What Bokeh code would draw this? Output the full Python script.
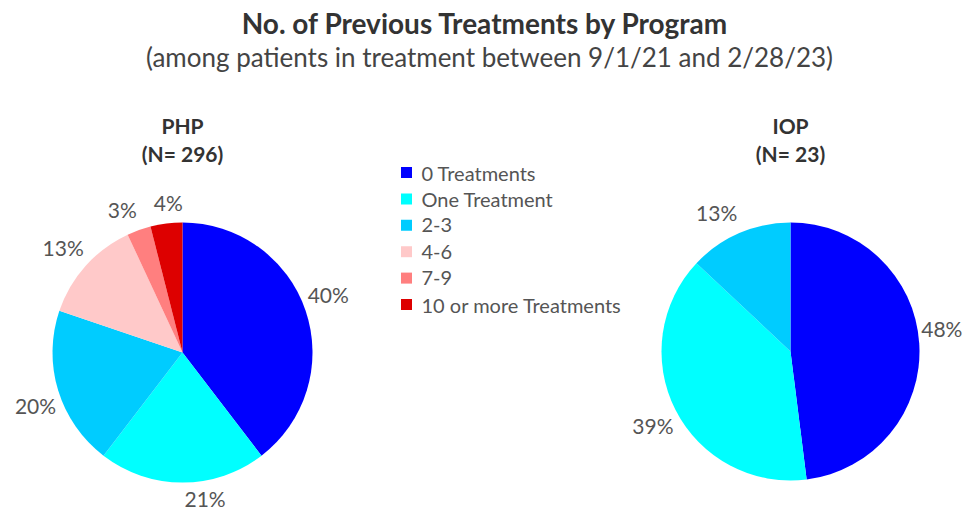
import math
from bokeh.plotting import figure
from bokeh.models import ColumnDataSource, Range1d
from bokeh.core.properties import value
from bokeh.embed import file_html
from bokeh.resources import INLINE

# ---- data ----
categories = ["0 Treatments", "One Treatment", "2-3", "4-6", "7-9", "10 or more Treatments"]
colors = ["#0000FF", "#00FFFF", "#00CCFF", "#FFC9C9", "#FF7F7F", "#DD0000"]
php_values = [40, 21, 20, 13, 3, 4]
iop_values = [48, 39, 13]
php_title = ["PHP", "(N= 296)"]
iop_title = ["IOP", "(N= 23)"]
main_title = "No. of Previous Treatments by Program"
sub_title = "(among patients in treatment between 9/1/21 and 2/28/23)"

W, H = 969, 510
FONT = "Lato"
GRAY = "#555555"

p = figure(width=W, height=H, output_backend="svg", toolbar_location=None,
           x_range=Range1d(0, W), y_range=Range1d(0, H), min_border=0)
p.axis.visible = False
p.grid.visible = False
p.outline_line_color = None
p.background_fill_color = "white"


def Y(py):  # page pixel y -> data y
    return H - py


def X(px):
    return px


def pie(vals, cx, cy, r):
    total = float(sum(vals))
    starts, ends = [], []
    lx, ly, la, lb, lt = [], [], [], [], []
    cum = 0.0
    for v in vals:
        a0 = math.pi / 2 - 2 * math.pi * (cum + v) / total
        a1 = math.pi / 2 - 2 * math.pi * cum / total
        starts.append(a0)
        ends.append(a1)
        mid = 2 * math.pi * (cum + v / 2) / total  # clockwise from top
        s, c = math.sin(mid), math.cos(mid)
        ex, ey = cx + s * r, cy + c * r  # point on the rim (data coords, y up)
        if c > 0:   # upper half: text sits above the rim point
            ly.append(ey + 14 + 7 * c)
            lb.append("alphabetic")
        else:       # lower half: text hangs below the rim point
            ly.append(ey - 3)
            lb.append("top")
        if abs(s) < 0.15 and c > 0:
            la.append("center")
            lx.append(ex + 2)
        elif s >= 0:
            la.append("left")
            lx.append(ex + 2)
        else:
            la.append("right")
            lx.append(ex - 2)
        lt.append(f"{v}%")
        cum += v
    src = ColumnDataSource(dict(start=starts, end=ends, color=colors[:len(vals)]))
    p.wedge(x=cx, y=cy, radius=r, start_angle="start", end_angle="end",
            fill_color="color", line_color=None, source=src)
    lsrc = ColumnDataSource(dict(x=lx, y=ly, t=lt, a=la, b=lb))
    p.text(x="x", y="y", text="t", text_align="a", text_baseline="b",
           text_font=value(FONT), text_font_size="21px", text_color=GRAY, source=lsrc)


pie(php_values, X(182), Y(352), 130)
pie(iop_values, X(790), Y(351), 129)

# pie titles
for lines, px in ((php_title, 182), (iop_title, 790)):
    p.text(x=[X(px)] * 2, y=[Y(125), Y(153)], text=lines, text_align="center",
           text_baseline="middle", text_font=value(FONT), text_font_style="bold",
           text_font_size="21px", text_color="#333333")

# main titles
p.text(x=[X(485)], y=[Y(22)], text=[main_title], text_align="center", text_baseline="middle",
       text_font=value(FONT), text_font_style="bold", text_font_size="28px", text_color="#333333")
p.text(x=[X(489)], y=[Y(56)], text=[sub_title], text_align="center", text_baseline="middle",
       text_font=value(FONT), text_font_size="26px", text_color="#444444")

# legend
ly = [Y(172 + 26.4 * i) for i in range(len(categories))]
p.scatter(x=[X(406)] * len(categories), y=ly, marker="square", size=11,
          fill_color=colors, line_color=None)
p.text(x=[X(421)] * len(categories), y=ly, text=categories, text_baseline="middle",
       text_font=value(FONT), text_font_size="20px", text_color=GRAY)

open("out.html", "w").write(file_html(p, INLINE))
